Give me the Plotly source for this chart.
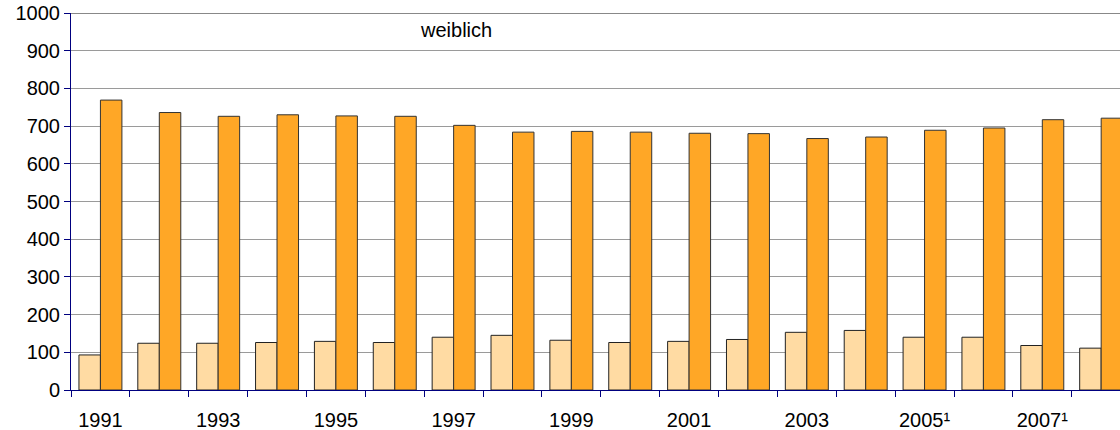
import plotly.graph_objects as go

years = [str(y) for y in range(1991, 2009)]
tick_labels = ["1991", "", "1993", "", "1995", "", "1997", "", "1999", "",
               "2001", "", "2003", "", "2005¹", "", "2007¹", ""]
series_light = [93, 124, 124, 126, 129, 126, 140, 145, 132, 126,
                129, 134, 153, 158, 140, 140, 118, 111]
series_orange = [769, 736, 726, 730, 727, 726, 702, 684, 686, 684,
                 681, 680, 667, 671, 689, 695, 717, 721]
title_text = "weiblich"

fig = go.Figure()
fig.add_trace(go.Bar(x=years, y=series_light, marker=dict(color="#FFDBA3", line=dict(color="#222222", width=1))))
fig.add_trace(go.Bar(x=years, y=series_orange, marker=dict(color="#FFA726", line=dict(color="#333333", width=1))))

font = dict(family="Liberation Sans, Arial, sans-serif", size=20, color="#000000")

fig.update_layout(
    width=1120, height=430,
    margin=dict(l=71, r=0, t=13, b=40),
    paper_bgcolor="white", plot_bgcolor="white",
    showlegend=False,
    barmode="group", bargap=0.27, bargroupgap=0,
    font=font,
    xaxis=dict(type="category", categoryorder="array", categoryarray=years,
               tickvals=years, ticktext=tick_labels, tickson="boundaries",
               range=[-0.5, 17.32], showline=True, linecolor="#00007F", linewidth=1,
               ticks="outside", tickcolor="#00007F", ticklen=6, showgrid=False,
               tickfont=font, automargin=False, ticklabelstandoff=12, tickangle=0),
    yaxis=dict(range=[0, 1000], dtick=100, showline=True, linecolor="#00007F", linewidth=1,
               ticks="outside", tickcolor="#00007F", ticklen=6, showgrid=True,
               gridcolor="#9A9A9A", gridwidth=1, zeroline=False, tickfont=font,
               automargin=False, ticklabeloverflow="allow"),
    shapes=[dict(type="line", xref="paper", yref="y", x0=0, x1=1, y0=1000, y1=1000,
                 line=dict(color="#888888", width=2))],
    annotations=[dict(text=title_text, xref="paper", yref="y", x=0.3667, y=955,
                      showarrow=False, font=font, xanchor="center", yanchor="middle")],
)

fig.write_html("out.html", config={"displayModeBar": False},
               post_script="document.body.style.margin='0';")
